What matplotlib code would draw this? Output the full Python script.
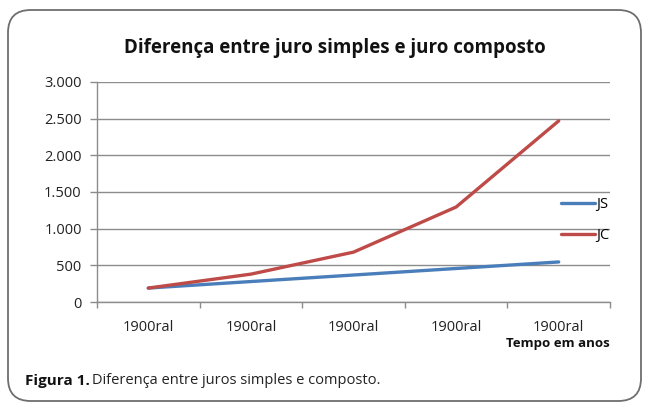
import numpy as np
import matplotlib
matplotlib.use('Agg')
import matplotlib.pyplot as plt
from matplotlib.patches import FancyBboxPatch

plt.rcParams['font.family'] = ['Open Sans', 'DejaVu Sans']

categorias = ['1900ral', '1900ral', '1900ral', '1900ral', '1900ral']
js = [190, 279, 368, 457, 546]
jc = [190, 380, 680, 1295, 2470]
yticks = [0, 500, 1000, 1500, 2000, 2500, 3000]
ylabels = ['0', '500', '1.000', '1.500', '2.000', '2.500', '3.000']

W, H = 649, 403
fig = plt.figure(figsize=(W / 100, H / 100), dpi=100)

# moldura arredondada
frame = FancyBboxPatch((8 / W, 1 - 401 / H), 633 / W, 391 / H,
                       boxstyle='round,pad=0,rounding_size=0.035',
                       transform=fig.transFigure, fill=False,
                       edgecolor='#6e6e6e', linewidth=1.3,
                       mutation_aspect=W / H)
fig.patches.append(frame)

ax = fig.add_axes([97 / W, 1 - 302 / H, 513 / W, 220 / H])
x = np.arange(len(categorias))
ax.plot(x, js, color='#4a7ebb', linewidth=2.4, solid_capstyle='round', label='JS', zorder=3)
ax.plot(x, jc, color='#be4b48', linewidth=2.4, solid_capstyle='round', label='JC', zorder=3)

ax.set_xlim(-0.5, len(categorias) - 0.5)
ax.set_ylim(0, 3000)
ax.set_yticks(yticks)
ax.set_yticklabels(ylabels, fontsize=10.5, color='#222222')
ax.yaxis.grid(True, color='#8c8c8c', linewidth=1.0)
ax.set_axisbelow(True)

ax.set_xticks(np.arange(-0.5, len(categorias), 1.0))
ax.set_xticklabels([])
ax.set_xticks(x, minor=True)
ax.set_xticklabels(categorias, minor=True, fontsize=10.5, color='#222222')
ax.tick_params(axis='x', which='major', length=4, color='#8c8c8c', width=1)
ax.tick_params(axis='x', which='minor', length=0, pad=13)
ax.tick_params(axis='y', length=5, color='#8c8c8c', width=1, pad=6)

for s in ['top', 'right']:
    ax.spines[s].set_visible(False)
for s in ['left', 'bottom']:
    ax.spines[s].set_color('#8c8c8c')
    ax.spines[s].set_linewidth(1.0)

leg = ax.legend(loc='upper left', bbox_to_anchor=(0.9045, 0.475), frameon=False,
                fontsize=10.5, handlelength=2.3, handletextpad=0.1,
                labelspacing=1.05, borderaxespad=0, borderpad=0)

fig.text(335 / W, 1 - 48 / H, 'Diferença entre juro simples e juro composto',
         ha='center', va='center', fontsize=13.5, fontweight='bold', color='#111111')
fig.text(610 / W, 1 - 343 / H, 'Tempo em anos', ha='right', va='center',
         fontsize=9.5, fontweight='bold', color='#111111')

fig.text(25 / W, 1 - 381 / H, 'Figura 1.', ha='left', va='center',
         fontsize=11, fontweight='bold', color='#111111')
fig.text(92 / W, 1 - 381 / H, 'Diferença entre juros simples e composto.',
         ha='left', va='center', fontsize=10.5, color='#222222',
         family=['Liberation Sans Narrow', 'Open Sans', 'DejaVu Sans'])

fig.savefig('out.png', dpi=100)
